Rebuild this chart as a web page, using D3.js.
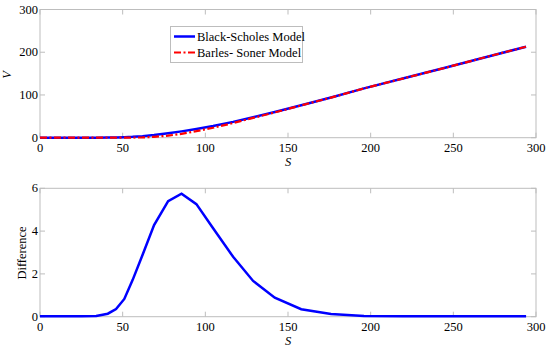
<!DOCTYPE html>
<html>
<head>
<meta charset="utf-8">
<script src="https://cdn.jsdelivr.net/npm/d3@7"></script>
<style>
  body { margin: 0; background: #fff; }
  text { font-family: "Liberation Serif", "Times New Roman", serif; }
</style>
</head>
<body>
<script>
// values
var sVals = [0, 8, 17, 25, 34, 41, 46, 51, 56, 62, 69, 77.5, 85.6, 94.6, 104.7, 116.8, 128.9, 142, 158, 176, 196, 220, 245, 270, 294]
var blackScholes = [0, 0, 0.02, 0.03, 0.1, 0.3, 0.6, 1.1, 2, 3.6, 6.2, 10.3, 14.8, 20.5, 27.5, 37, 48, 60, 76, 94, 115.5, 139, 163.5, 189, 213]
var difference = [0.02, 0.02, 0.02, 0.02, 0.03, 0.14, 0.36, 0.83, 1.71, 2.88, 4.28, 5.4, 5.75, 5.26, 4.13, 2.8, 1.67, 0.89, 0.35, 0.13, 0.03, 0.02, 0.02, 0.02, 0.02]
var barlesSoner = blackScholes.map(function(v, i) { return Math.max(0, v - difference[i]) })
var xTicks = [0, 50, 100, 150, 200, 250, 300]
var vTicks = [0, 100, 200, 300]
var dTicks = [0, 2, 4, 6]
var legendNames = ["Black-Scholes Model", "Barles- Soner Model"]

var W = 550, H = 349
var svg = d3.select("body").append("svg").attr("width", W).attr("height", H)

var x = d3.scaleLinear().domain([0, 300]).range([40, 536])
var yTop = d3.scaleLinear().domain([0, 300]).range([137.7, 9.5])
var yBot = d3.scaleLinear().domain([0, 6]).range([316.7, 188.3])

function drawAxes(y, yt, xLabelY) {
    var g = svg.append("g")
    var x0 = x.range()[0], x1 = x.range()[1]
    var y0 = y.range()[0], y1 = y.range()[1]
    g.append("rect").attr("x", x0).attr("y", y1).attr("width", x1 - x0).attr("height", y0 - y1)
        .attr("fill", "none").attr("stroke", "#bdbdbd").attr("stroke-width", 1)
    // ticks inward on all sides
    xTicks.forEach(function(t) {
        g.append("line").attr("x1", x(t)).attr("x2", x(t)).attr("y1", y0).attr("y2", y0 - 5).attr("stroke", "#bdbdbd")
        g.append("line").attr("x1", x(t)).attr("x2", x(t)).attr("y1", y1).attr("y2", y1 + 5).attr("stroke", "#bdbdbd")
        g.append("text").attr("x", x(t)).attr("y", y0 + 14).attr("text-anchor", "middle")
            .attr("font-family", "Liberation Serif").attr("font-size", 12.5).text(t)
    })
    yt.forEach(function(t) {
        g.append("line").attr("x1", x0).attr("x2", x0 + 5).attr("y1", y(t)).attr("y2", y(t)).attr("stroke", "#bdbdbd")
        g.append("line").attr("x1", x1).attr("x2", x1 - 5).attr("y1", y(t)).attr("y2", y(t)).attr("stroke", "#bdbdbd")
        g.append("text").attr("x", x0 - 2).attr("y", y(t) + 4).attr("text-anchor", "end")
            .attr("font-family", "Liberation Serif").attr("font-size", 12.5).text(t)
    })
    g.append("text").attr("x", 288).attr("y", xLabelY).attr("text-anchor", "middle")
        .attr("font-family", "Liberation Serif").attr("font-size", 12.5).attr("font-style", "italic").text("S")
}

drawAxes(yTop, vTicks, 166)
drawAxes(yBot, dTicks, 345)

svg.append("text").attr("transform", "translate(11,75) rotate(-90)").attr("text-anchor", "middle")
    .attr("font-size", 12.5).attr("font-style", "italic").text("V")
svg.append("text").attr("transform", "translate(26,253) rotate(-90)").attr("text-anchor", "middle")
    .attr("font-size", 12.5).text("Difference")

var lineTop = d3.line().x(function(d, i) { return x(sVals[i]) }).y(function(d) { return yTop(d) })
var lineBot = d3.line().x(function(d, i) { return x(sVals[i]) }).y(function(d) { return yBot(d) })

svg.append("path").datum(blackScholes).attr("d", lineTop).attr("fill", "none")
    .attr("stroke", "#0000ff").attr("stroke-width", 2.5)
svg.append("path").datum(barlesSoner).attr("d", lineTop).attr("fill", "none")
    .attr("stroke", "#ff0000").attr("stroke-width", 2.2).attr("stroke-dasharray", "7,2.5,2,2.5")

svg.append("path").datum(difference).attr("d", lineBot).attr("fill", "none")
    .attr("stroke", "#0000ff").attr("stroke-width", 2.5)

// legend
var leg = svg.append("g")
leg.append("rect").attr("x", 170.5).attr("y", 26.5).attr("width", 132).attr("height", 36)
    .attr("fill", "#fff").attr("stroke", "#bdbdbd")
leg.append("line").attr("x1", 174).attr("x2", 195).attr("y1", 36.5).attr("y2", 36.5)
    .attr("stroke", "#0000ff").attr("stroke-width", 2.5)
leg.append("line").attr("x1", 174).attr("x2", 195).attr("y1", 52.5).attr("y2", 52.5)
    .attr("stroke", "#ff0000").attr("stroke-width", 2.2).attr("stroke-dasharray", "7,2.5,2,2.5")
legendNames.forEach(function(n, i) {
    leg.append("text").attr("x", 197).attr("y", 40.5 + i * 16).attr("font-size", 12.5).text(n)
})
</script>
</body>
</html>
